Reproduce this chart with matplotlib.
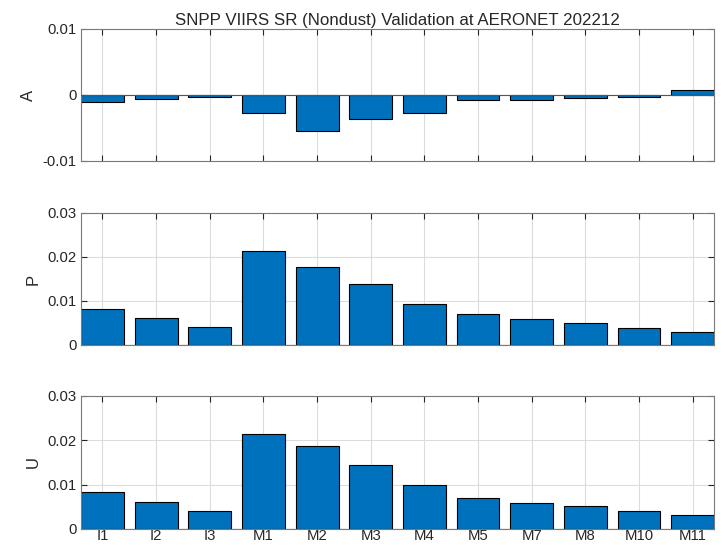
#!/usr/bin/env python3
import matplotlib
matplotlib.use('Agg')
import matplotlib.pyplot as plt
import numpy as np

plt.rcParams['font.family'] = ['Liberation Sans', 'DejaVu Sans']

bands = ["I1", "I2", "I3", "M1", "M2", "M3", "M4", "M5", "M7", "M8", "M10", "M11"]
acc   = [-0.0010, -0.0006, -0.00025, -0.0028, -0.0055, -0.0036,
         -0.0028, -0.0008, -0.00075, -0.0005, -0.00035, 0.0008]
prec  = [0.0082, 0.0061, 0.0040, 0.0213, 0.0178, 0.0139,
         0.0094, 0.0070, 0.0058, 0.0050, 0.0039, 0.00295]
unc   = [0.0084, 0.0061, 0.0041, 0.0215, 0.0187, 0.0144,
         0.0099, 0.0070, 0.0059, 0.0051, 0.0040, 0.0031]

TITLE   = "SNPP VIIRS SR (Nondust) Validation at AERONET 202212"
C_BAR   = "#0072BD"
C_AXIS  = "#262626"
C_GRID  = "#dcdcdc"

panels = [
    (acc,  "A", (-0.01, 0.01), [-0.01, 0, 0.01], ["-0.01", "0", "0.01"], [0.1116, 0.7046, 0.872, 0.2422]),
    (prec, "P", (0, 0.03), [0, 0.01, 0.02, 0.03], ["0", "0.01", "0.02", "0.03"], [0.1116, 0.367, 0.872, 0.2422]),
    (unc,  "U", (0, 0.03), [0, 0.01, 0.02, 0.03], ["0", "0.01", "0.02", "0.03"], [0.1116, 0.0294, 0.872, 0.2440]),
]

fig = plt.figure(figsize=(7.26, 5.45), dpi=100)
x = np.arange(1, len(bands) + 1)

for i, (vals, lab, ylim, yt, ytl, pos) in enumerate(panels):
    ax = fig.add_axes(pos)
    ax.set_axisbelow(True)
    ax.bar(x, vals, width=0.8, color=C_BAR, edgecolor="black", linewidth=0.8, zorder=2)
    ax.axhline(0, color="#555555", linewidth=0.8, zorder=3)
    ax.set_xlim(0.6, len(bands) + 0.4)
    ax.set_ylim(*ylim)
    ax.set_yticks(yt)
    ax.set_yticklabels(ytl)
    ax.set_xticks(x)
    if i == len(panels) - 1:
        ax.set_xticklabels(bands, fontsize=13.5)
    else:
        ax.set_xticklabels([])
    ax.grid(True, color=C_GRID, linewidth=0.8, zorder=0)
    ax.tick_params(direction="in", top=True, right=True, length=4,
                   width=0.8, colors=C_AXIS, labelsize=10.7, pad=3)
    ax.tick_params(axis="x", pad=0)
    for s in ax.spines.values():
        s.set_color("#7a7a7a")
        s.set_linewidth(0.8)
    ax.set_ylabel(lab, fontsize=12, color=C_AXIS, labelpad=5)
    if i == 0:
        ax.set_title(TITLE, fontsize=12.2, color=C_AXIS, pad=3)

fig.savefig("out.png", dpi=100)
